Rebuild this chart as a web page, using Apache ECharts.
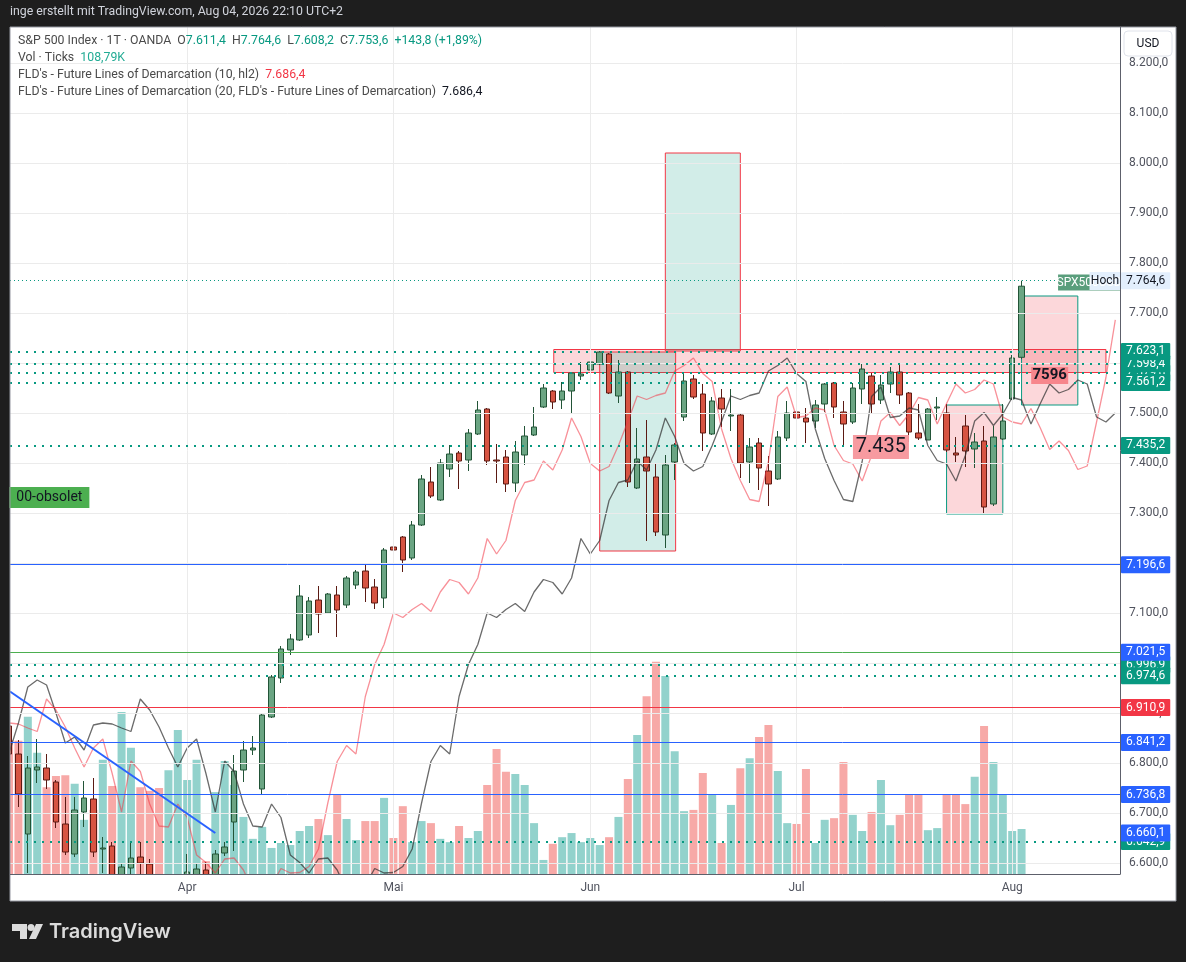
<!DOCTYPE html>
<html>
<head>
<meta charset="utf-8">
<title>S&amp;P 500 Index · 1T · OANDA</title>
<script src="https://cdn.jsdelivr.net/npm/echarts@6/dist/echarts.min.js"></script>
<style>
  html, body { margin: 0; padding: 0; background: #1e1e1e; }
  #chart { width: 1186px; height: 962px; }
</style>
</head>
<body>
<div id="chart"></div>
<script>
// daily bars Mar 5 .. Aug 4 (weekdays), x = bar index
var opens = [6874,6818,6658,6786,6790,6762,6678,6618,6702,6728,
  6628,6634,6575,6590,6612,6598,6560,6530,6545,6570,
  6575,6586,6570,6620,6682,6786,6826,6748,6892,6970,
  7026,7046,7056,7126,7100,7136,7116,7156,7184,7152,
  7130,7232,7252,7210,7276,7362,7326,7388,7420,7406,
  7458,7508,7406,7412,7360,7416,7456,7512,7544,7526,
  7544,7574,7586,7598,7618,7534,7582,7350,7412,7372,
  7256,7402,7492,7568,7538,7458,7530,7494,7496,7402,
  7440,7384,7368,7450,7502,7490,7484,7518,7560,7502,
  7482,7548,7574,7526,7558,7582,7540,7460,7446,7510,
  7500,7420,7474,7428,7444,7318,7448,7528,7611.4];
var closes = [6818,6738,6790,6792,6766,6682,6622,6706,6730,6622,
  6630,6570,6592,6610,6600,6572,6530,6560,6570,6582,
  6588,6572,6618,6632,6784,6826,6830,6896,6972,7028,
  7048,7134,7124,7098,7138,7106,7170,7182,7150,7120,
  7226,7226,7206,7276,7368,7334,7400,7418,7404,7460,
  7506,7404,7404,7358,7422,7454,7472,7550,7522,7544,
  7580,7578,7602,7622,7540,7582,7362,7408,7384,7262,
  7396,7436,7564,7532,7460,7524,7508,7496,7400,7432,
  7390,7358,7452,7500,7490,7482,7516,7558,7512,7478,
  7550,7588,7518,7556,7582,7536,7462,7450,7508,7512,
  7426,7416,7424,7442,7312,7452,7484,7610,7753.6];
var lows = [6800,6712,6580,6760,6748,6670,6616,6612,6672,6612,
  6580,6560,6560,6575,6578,6565,6520,6515,6535,6560,
  6560,6560,6560,6614,6624,6762,6816,6736,6890,6960,
  7016,7044,7050,7060,7098,7052,7110,7148,7122,7108,
  7110,7220,7182,7206,7274,7330,7324,7372,7348,7384,
  7456,7396,7360,7342,7342,7396,7454,7510,7508,7508,
  7498,7566,7568,7596,7538,7520,7352,7348,7244,7254,
  7230,7366,7484,7528,7424,7456,7472,7464,7370,7360,
  7346,7314,7366,7444,7466,7440,7470,7502,7490,7432,
  7478,7518,7500,7518,7540,7518,7442,7446,7446,7486,
  7422,7402,7392,7390,7300,7314,7446,7526,7608.2];
var highs = [6895,6846,6814,6848,6818,6766,6732,6732,6764,6770,
  6652,6642,6600,6642,6642,6608,6570,6568,6576,6618,
  6600,6602,6626,6642,6816,6844,6854,6900,6976,7034,
  7058,7156,7132,7154,7140,7154,7174,7186,7200,7168,
  7230,7278,7254,7284,7376,7392,7408,7436,7424,7468,
  7524,7510,7438,7426,7444,7474,7512,7558,7546,7562,
  7582,7602,7622,7624,7620,7606,7584,7470,7486,7400,
  7416,7440,7582,7576,7558,7532,7548,7548,7500,7450,
  7450,7414,7464,7524,7536,7510,7526,7560,7562,7524,
  7560,7598,7580,7576,7592,7598,7542,7518,7510,7532,
  7518,7452,7496,7460,7474,7474,7518,7616,7764.6];
// volume in K ticks
var volumes = [324,322,380,293,210,237,239,218,131,155,
  276,213,392,305,210,201,208,251,348,227,
  276,31,198,273,215,138,85,114,63,75,
  70,104,116,133,94,191,133,82,128,128,
  184,87,164,77,128,123,85,77,116,87,
  104,215,302,247,242,215,123,34,73,89,
  99,77,87,70,89,138,230,336,430,513,
  479,297,152,155,244,193,75,167,256,280,
  331,360,249,123,121,254,75,131,135,271,
  143,104,150,227,118,143,191,193,106,111,
  191,193,169,235,358,271,191,104,108.79];
// FLD lines, index 0..118 (run into the future)
var fldFast = [6880,6878,6870,6863,6928,6906,6872,6830,6792,6830,
  6848,6779,6702,6804,6783,6718,6674,6672,6718,6691,
  6616,6601,6580,6608,6610,6586,6545,6541,6555,6589,
  6580,6581,6593,6628,6720,6803,6835,6818,6933,6997,
  7037,7100,7091,7107,7119,7103,7142,7167,7161,7138,
  7170,7249,7218,7245,7325,7361,7366,7404,7386,7426,
  7490,7453,7399,7384,7393,7435,7483,7534,7527,7535,
  7540,7584,7595,7610,7579,7563,7468,7409,7365,7327,
  7323,7403,7533,7552,7491,7494,7510,7506,7435,7405,
  7398,7364,7415,7484,7501,7475,7498,7531,7526,7478,
  7519,7558,7540,7547,7566,7558,7492,7482,7478,7509,
  7470,7427,7444,7425,7387,7394,7482,7571,7686.4];
var fldSlow = [6820,6880,6952,6966,6956,6900,6840,6852,6826,6876,
  6880,6878,6870,6863,6928,6906,6872,6830,6792,6830,
  6848,6779,6702,6804,6783,6718,6674,6672,6718,6691,
  6616,6601,6580,6608,6610,6586,6545,6541,6555,6589,
  6580,6581,6593,6628,6720,6803,6835,6818,6933,6997,
  7037,7100,7091,7107,7119,7103,7142,7167,7161,7138,
  7170,7249,7218,7245,7325,7361,7366,7404,7386,7426,
  7490,7453,7399,7384,7393,7435,7483,7534,7527,7535,
  7540,7584,7595,7610,7579,7563,7468,7409,7365,7327,
  7323,7403,7533,7552,7491,7494,7510,7506,7435,7405,
  7398,7364,7415,7484,7501,7475,7498,7531,7526,7478,
  7519,7558,7540,7547,7566,7558,7492,7482,7500];

var monthPos = [19, 41, 62, 84, 107];
var monthNames = ['Apr', 'Mai', 'Jun', 'Jul', 'Aug'];
var priceTicks = [6600,6700,6800,6900,7000,7100,7200,7300,7400,7500,7600,7700,7800,7900,8000,8100,8200];

var dottedLevels = [7579.6, 7598.4, 7623.1, 7561.2, 7435.2, 6996.9, 6974.6, 6642.9];
var solidLevels = [7196.6, 7021.5, 6910.9, 6841.2, 6736.8];
var labelOnlyLevels = [6660.1];
var highLevel = 7764.6;

// drawn boxes: bar index from/to, price top/bottom
var zoneX0 = [58.1, 70.0, 63.0, 100.0, 108.0];
var zoneX1 = [117.0, 78.0, 71.1, 106.0, 114.0];
var zoneTop = [7627, 8020, 7622, 7516, 7734];
var zoneBottom = [7581, 7624, 7224, 7298, 7516];

var trendX = [0.1, 22.0];
var trendY = [6943, 6660];

var noteText = ['00-obsolet', '7.435', '7596', 'SPX500USD', 'Hoch'];
var noteX = [4.3, 93.0, 111.0, 115.2, 116.9];
var noteY = [7331, 7432, 7575, 7761, 7764];

function fmt(v) {
  var s = v.toFixed(1).split('.');
  return s[0].replace(/\B(?=(\d{3})+(?!\d))/g, '.') + ',' + s[1];
}

var FONT = 'Roboto, "Noto Sans", sans-serif';
var HF = '12.3px ' + FONT;
var UP = '#6ba583', DOWN = '#d75442';

var candleData = [];
var volData = [];
for (var i = 0; i < opens.length; i++) {
  candleData.push([i, opens[i], closes[i], lows[i], highs[i]]);
  volData.push({
    value: [i, volumes[i]],
    itemStyle: { color: closes[i] >= opens[i] ? '#92d2cc' : '#f7a9a7' }
  });
}
var fastData = fldFast.map(function (v, k) { return [k, v]; });
var slowData = fldSlow.map(function (v, k) { return [k, v]; });
var trendData = trendX.map(function (v, k) { return [v, trendY[k]]; });

// grid lines + price texts
var gridLines = [];
priceTicks.forEach(function (v) {
  gridLines.push({
    yAxis: v,
    lineStyle: { color: '#ebebeb', width: 1, type: 'solid' },
    label: { show: true, position: 'end', distance: 9, formatter: fmt(v), color: '#50535e', fontSize: 12, fontFamily: FONT }
  });
});
monthPos.forEach(function (p) {
  gridLines.push({ xAxis: p, lineStyle: { color: '#ebebeb', width: 1, type: 'solid' }, label: { show: false } });
});
// month names (drawn above the cover strip)
var monthLabels = monthPos.map(function (p, k) {
  return {
    xAxis: p,
    lineStyle: { color: 'rgba(0,0,0,0)', width: 0 },
    label: { show: true, position: 'start', distance: 8, formatter: monthNames[k], color: '#50535e', fontSize: 12, fontFamily: FONT }
  };
});

function badge(text, bg, fg) {
  return {
    show: true, position: 'end', distance: 1, formatter: text,
    backgroundColor: bg, color: fg || '#fff', padding: [3, 5, 2, 5],
    fontSize: 12, fontFamily: FONT, borderRadius: 1
  };
}

var levelLines = [];
dottedLevels.forEach(function (v) {
  levelLines.push({
    yAxis: v,
    lineStyle: { color: '#089981', width: 2, type: [2, 6] },
    label: badge(fmt(v), '#089981')
  });
});
var solidColors = ['#2962ff', '#4caf50', '#f23645', '#2962ff', '#2962ff'];
var solidLabelBg = ['#2962ff', '#2962ff', '#f23645', '#2962ff', '#2962ff'];
solidLevels.forEach(function (v, k) {
  levelLines.push({
    yAxis: v,
    lineStyle: { color: solidColors[k], width: 1, type: 'solid' },
    label: badge(fmt(v), solidLabelBg[k])
  });
});
labelOnlyLevels.forEach(function (v) {
  levelLines.push({
    yAxis: v,
    lineStyle: { color: 'rgba(0,0,0,0)', width: 0 },
    label: badge(fmt(v), '#2962ff')
  });
});
levelLines.push({
  yAxis: highLevel,
  lineStyle: { color: '#089981', width: 1, type: [1, 3] },
  label: badge(fmt(highLevel), '#e3effd', '#131722')
});

var zoneFill = ['rgba(242,54,69,0.2)', 'rgba(8,153,129,0.18)', 'rgba(8,153,129,0.18)', 'rgba(242,54,69,0.2)', 'rgba(242,54,69,0.2)'];
var zoneStroke = ['#f23645', '#f23645', '#f23645', '#089981', '#089981'];
var zones = zoneX0.map(function (x0, k) {
  return [
    { coord: [x0, zoneTop[k]], itemStyle: { color: zoneFill[k], borderColor: zoneStroke[k], borderWidth: 1 } },
    { coord: [zoneX1[k], zoneBottom[k]] }
  ];
});

var noteSize = [[80, 21], [56, 24], [37, 17], [62, 16], [31, 18]];
var noteBg = ['#4caf50', '#f79aa0', '#f7868c', '#5a9e7c', '#e3effd'];
var noteFg = ['#131722', '#131722', '#131722', '#ffffff', '#131722'];
var noteFont = [14, 20, 15, 12, 12];
var noteWeight = ['normal', 'normal', 'bold', 'normal', 'normal'];
var notes = noteText.map(function (t, k) {
  return {
    coord: [noteX[k], noteY[k]],
    symbol: 'rect', symbolSize: noteSize[k],
    itemStyle: { color: noteBg[k] },
    label: { show: true, position: 'inside', formatter: t, color: noteFg[k], fontSize: noteFont[k], fontWeight: noteWeight[k], fontFamily: FONT }
  };
});

var lab = { fill: '#4a4a4a', font: HF };
var grn = { fill: '#089981', font: HF };

var option = {
  backgroundColor: '#1e1e1e',
  animation: false,
  grid: { left: 10, right: 66, top: 27, bottom: 88 },
  xAxis: {
    type: 'value', min: 0.1, max: 118.5, z: 8,
    axisLine: { show: true, onZero: false, lineStyle: { color: '#5d606b', width: 1 } },
    axisTick: { show: false }, axisLabel: { show: false }, splitLine: { show: false }
  },
  yAxis: [{
    type: 'value', min: 6578, max: 8272, position: 'right', z: 8,
    axisLine: { show: true, lineStyle: { color: '#5d606b', width: 1 } },
    axisTick: { show: false }, axisLabel: { show: false }, splitLine: { show: false }
  }, {
    type: 'value', min: 0, max: 2048, show: false, splitLine: { show: false }
  }],
  graphic: [
    { type: 'rect', z: -10, silent: true, shape: { x: 10, y: 27, width: 1166, height: 874 },
      style: { fill: '#ffffff' } },
    // strips that hide what runs past the plot edges
    { type: 'rect', z: 5, silent: true, shape: { x: 10, y: 875, width: 1110, height: 26 }, style: { fill: '#ffffff' } },
    { type: 'rect', z: 5, silent: true, shape: { x: 0, y: 27, width: 10, height: 880 }, style: { fill: '#1e1e1e' } },
    { type: 'rect', z: 7, silent: true, shape: { x: 10, y: 27, width: 1166, height: 874 },
      style: { fill: 'none', stroke: '#9598a1', lineWidth: 1 } },
    { type: 'text', z: 100, x: 10, y: 6,
      style: { text: 'inge erstellt mit TradingView.com, Aug 04, 2026 22:10 UTC+2', fill: '#d1d4dc', font: HF } },
    { type: 'text', z: 100, x: 18, y: 35,
      style: {
        text: '{l|S&P 500 Index · 1T · OANDA  O}{g|7.611,4}{l|  H}{g|7.764,6}{l|  L}{g|7.608,2}{l|  C}{g|7.753,6}{g|  +143,8 (+1,89%)}',
        rich: { l: lab, g: grn }
      } },
    { type: 'text', z: 100, x: 18, y: 52,
      style: { text: '{l|Vol · Ticks  }{t|108,79K}', rich: { l: lab, t: { fill: '#22ab94', font: HF } } } },
    { type: 'text', z: 100, x: 18, y: 69,
      style: { text: "{l|FLD's - Future Lines of Demarcation (10, hl2)  }{r|7.686,4}", rich: { l: lab, r: { fill: '#f23645', font: HF } } } },
    { type: 'text', z: 100, x: 18, y: 86,
      style: { text: "{l|FLD's - Future Lines of Demarcation (20, FLD's - Future Lines of Demarcation)  }{b|7.686,4}", rich: { l: lab, b: { fill: '#131722', font: HF } } } },
    { type: 'rect', z: 100, shape: { x: 1124, y: 31, width: 48, height: 25, r: 4 },
      style: { fill: '#ffffff', stroke: '#e0e3eb', lineWidth: 1 } },
    { type: 'text', z: 101, x: 1148, y: 44,
      style: { text: 'USD', textAlign: 'center', textVerticalAlign: 'middle', fill: '#131722', font: '12px ' + FONT } },
    { type: 'polygon', z: 100, shape: { points: [[12, 924], [27, 924], [27, 939], [20, 939], [20, 931], [12, 931]] }, style: { fill: '#dcdcdc' } },
    { type: 'circle', z: 100, shape: { cx: 31, cy: 927.5, r: 3.5 }, style: { fill: '#dcdcdc' } },
    { type: 'polygon', z: 100, shape: { points: [[36, 924], [43, 924], [36, 939], [29, 939]] }, style: { fill: '#dcdcdc' } },
    { type: 'text', z: 100, x: 49, y: 932,
      style: { text: 'TradingView', textVerticalAlign: 'middle', fill: '#dcdcdc', font: '600 20px Inter, ' + FONT } }
  ],
  series: [
    { name: 'grid', type: 'line', data: [], z: 0, silent: true,
      markLine: { silent: true, symbol: ['none', 'none'], animation: false, data: gridLines } },
    { name: 'zones', type: 'line', data: [], z: 1, silent: true,
      markArea: { silent: true, animation: false, data: zones } },
    { name: 'Vol', type: 'bar', xAxisIndex: 0, yAxisIndex: 1, data: volData, barWidth: 8, z: 2, silent: true, clip: true },
    { name: 'S&P 500', type: 'candlestick', data: candleData, encode: { x: 0, y: [1, 2, 3, 4] },
      barWidth: 6, z: 3, silent: true, clip: true,
      itemStyle: { color: UP, color0: DOWN, borderColor: '#225437', borderColor0: '#5b1a13', borderWidth: 1 } },
    { name: 'FLD 10', type: 'line', data: fastData, symbol: 'none', z: 4, silent: true, clip: true,
      lineStyle: { color: 'rgba(242,54,69,0.55)', width: 1.3 } },
    { name: 'FLD 20', type: 'line', data: slowData, symbol: 'none', z: 4, silent: true, clip: true,
      lineStyle: { color: 'rgba(50,50,50,0.72)', width: 1.3 } },
    { name: 'trend', type: 'line', data: trendData, symbol: 'none', z: 5, silent: true,
      lineStyle: { color: '#2962ff', width: 2 } },
    { name: 'levels', type: 'line', data: [], z: 6, silent: true,
      markLine: { silent: true, symbol: ['none', 'none'], animation: false, data: levelLines },
      markPoint: { silent: true, animation: false, data: notes } },
    { name: 'months', type: 'line', data: [], z: 10, silent: true,
      markLine: { silent: true, symbol: ['none', 'none'], animation: false, data: monthLabels } }
  ]
};

var chart = echarts.init(document.getElementById('chart'));
chart.setOption(option);
</script>
</body>
</html>
